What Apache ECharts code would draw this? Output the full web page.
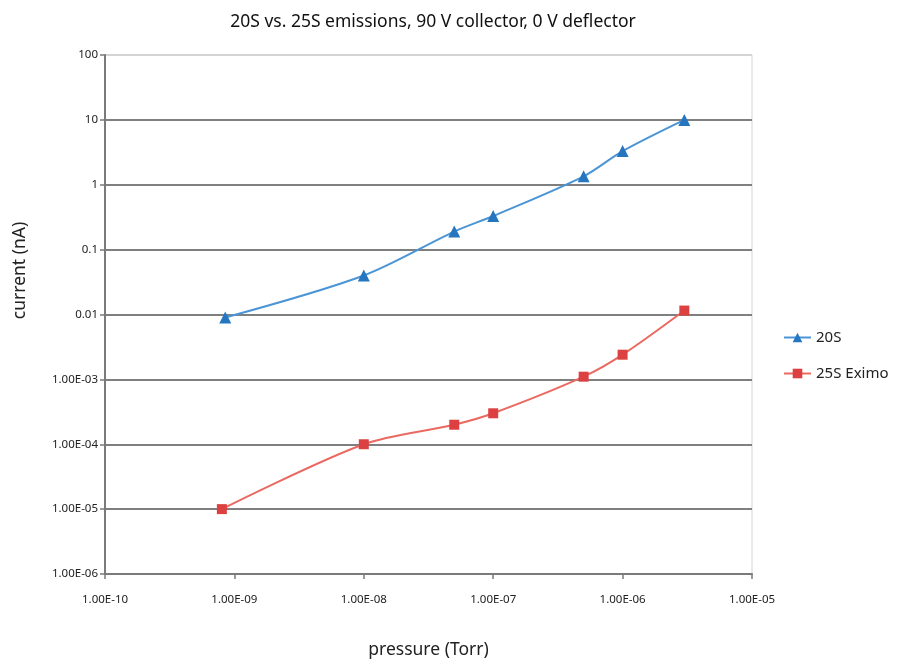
<!DOCTYPE html>
<html>
<head>
<meta charset="utf-8">
<script src="https://cdn.jsdelivr.net/npm/echarts@6/dist/echarts.min.js"></script>
<style>
html,body{margin:0;padding:0;background:#fff;}
#chart{width:915px;height:664px;}
</style>
</head>
<body>
<div id="chart"></div>
<script>
const seriesNames = ['20S', '25S Eximo'];
const pressure20S = [8.5e-10, 1e-8, 5e-8, 1e-7, 5e-7, 1e-6, 3e-6];
const current20S = [0.009, 0.04, 0.19, 0.33, 1.35, 3.3, 10];
const pressure25S = [8e-10, 1e-8, 5e-8, 1e-7, 5e-7, 1e-6, 3e-6];
const current25S = [1e-5, 1e-4, 2e-4, 3e-4, 1.1e-3, 2.4e-3, 0.0115];
const xTickLabels = ['1.00E-10', '1.00E-09', '1.00E-08', '1.00E-07', '1.00E-06', '1.00E-05'];
const yTickLabels = ['1.00E-06', '1.00E-05', '1.00E-04', '1.00E-03', '0.01', '0.1', '1', '10', '100'];

const font = 'Noto Sans';
const chart = echarts.init(document.getElementById('chart'));
chart.setOption({
  backgroundColor: '#fff',
  animation: false,
  title: {
    text: '20S vs. 25S emissions, 90 V collector, 0 V deflector',
    left: 428, top: 8, textAlign: 'center',
    textStyle: {fontFamily: font, fontSize: 17.5, fontWeight: 'normal', color: '#111'}
  },
  legend: {
    orient: 'vertical', left: 778, top: 325, itemGap: 21,
    itemWidth: 27, itemHeight: 12,
    textStyle: {fontFamily: font, fontSize: 15, color: '#222'},
    data: seriesNames
  },
  grid: {left: 105, right: 163, top: 55, bottom: 89, show: true, borderColor: '#d4d4d4', borderWidth: 1},
  xAxis: {
    type: 'log', logBase: 10, min: 1e-10, max: 1e-5,
    name: 'pressure (Torr)', nameLocation: 'middle', nameGap: 67,
    nameTextStyle: {fontFamily: font, fontSize: 17.5, color: '#222'},
    axisLine: {show: true, lineStyle: {color: '#7a7a7a', width: 2}},
    axisTick: {show: true, inside: false, length: 5, lineStyle: {color: '#7a7a7a', width: 1.5}},
    splitLine: {show: false},
    minorTick: {show: false},
    axisLabel: {
      fontFamily: font, fontSize: 11.5, color: '#222', margin: 20,
      formatter: v => xTickLabels[Math.round(Math.log10(v)) + 10]
    }
  },
  yAxis: {
    type: 'log', logBase: 10, min: 1e-6, max: 100,
    name: 'current (nA)', nameLocation: 'middle', nameGap: 76, nameRotate: 90,
    nameTextStyle: {fontFamily: font, fontSize: 17.5, color: '#222', padding: [0, 0, 0, 88]},
    axisLine: {show: true, lineStyle: {color: '#7a7a7a', width: 2}},
    axisTick: {show: true, inside: false, length: 5, lineStyle: {color: '#7a7a7a', width: 1.5}},
    splitLine: {show: true, lineStyle: {color: ['#7f7f7f','#7f7f7f','#7f7f7f','#7f7f7f','#7f7f7f','#7f7f7f','#7f7f7f','#7f7f7f','#d4d4d4'], width: 2}},
    axisLabel: {
      fontFamily: font, fontSize: 11.5, color: '#222', margin: 7,
      formatter: v => yTickLabels[Math.round(Math.log10(v)) + 6]
    }
  },
  series: [
    {
      name: seriesNames[0], type: 'line', smooth: 0.3,
      data: pressure20S.map((p, i) => [p, current20S[i]]),
      symbol: 'triangle', symbolSize: 12,
      itemStyle: {color: '#2576bf'},
      lineStyle: {color: '#4b95d6', width: 2}
    },
    {
      name: seriesNames[1], type: 'line', smooth: 0.3,
      data: pressure25S.map((p, i) => [p, current25S[i]]),
      symbol: 'rect', symbolSize: 10,
      itemStyle: {color: '#dd4040'},
      lineStyle: {color: '#ea6a62', width: 2}
    }
  ]
});
</script>
</body>
</html>
